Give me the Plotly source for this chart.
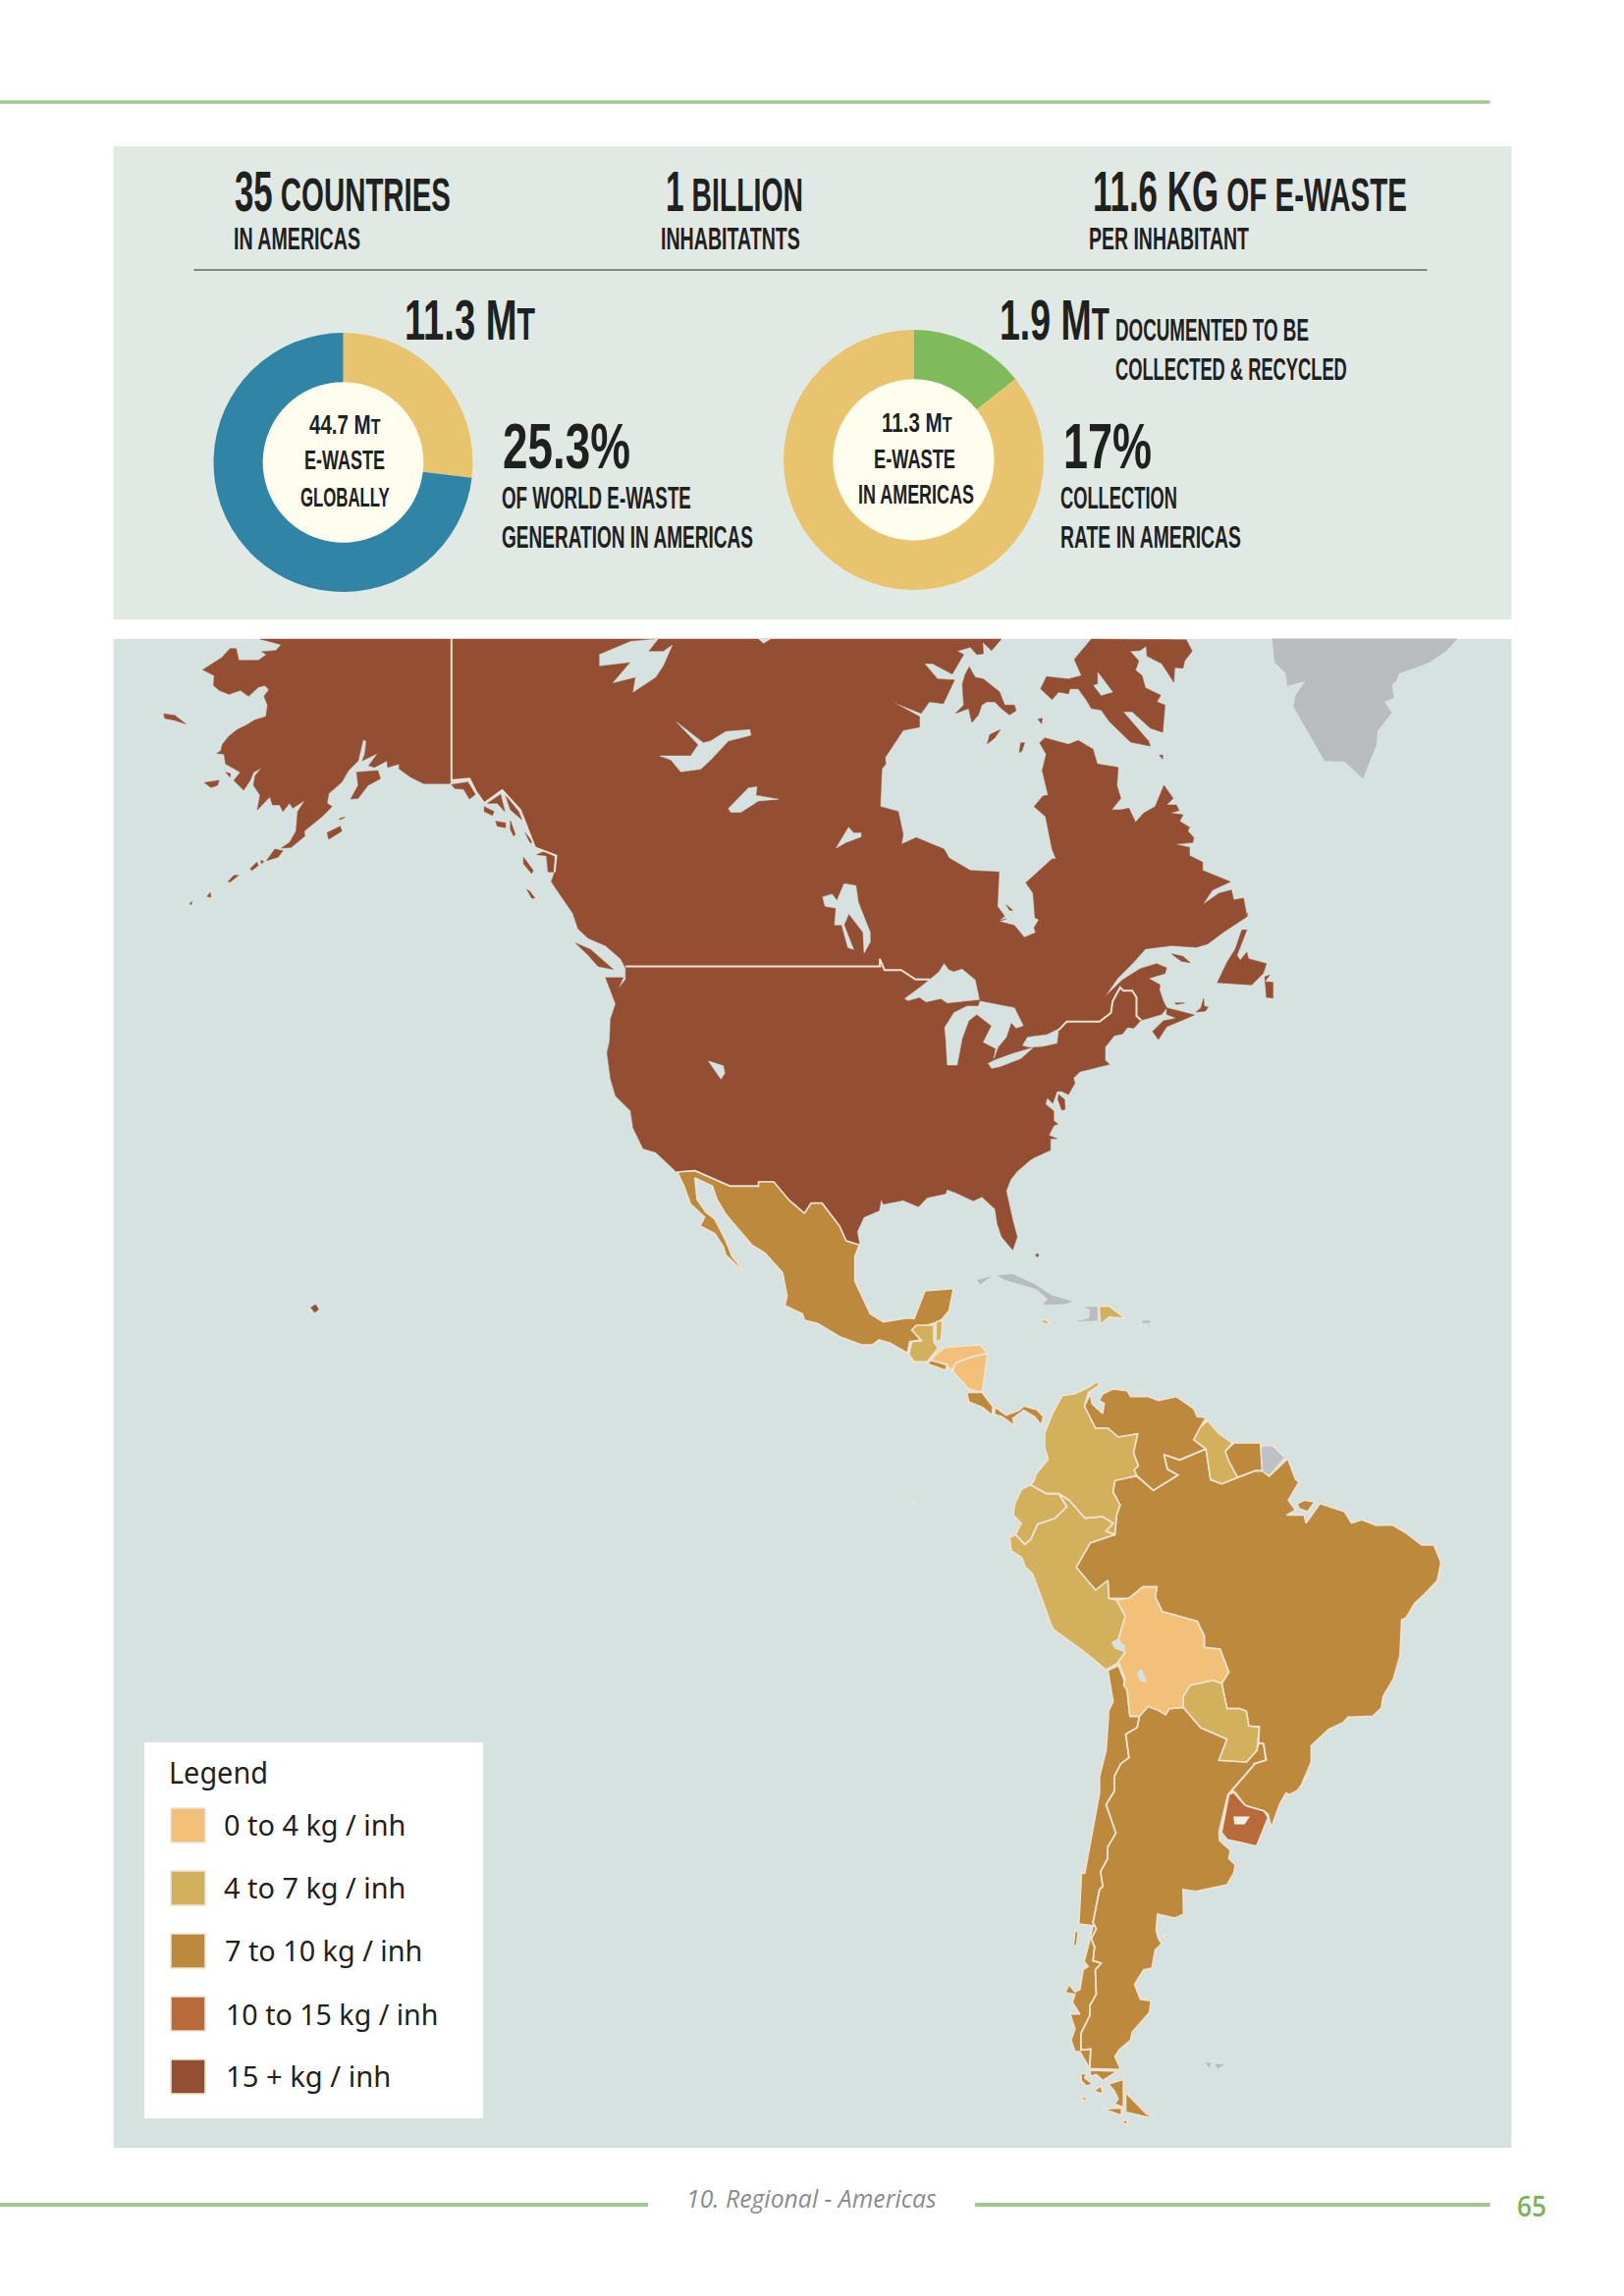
import json
import plotly.graph_objects as go

# ---------- page frame ----------
W, H = 1654, 2339
NUDGE = 1.5

def crop(x0, y0, sx, sy):
    return lambda pts: [(x0 + a / sx, y0 + b / sy) for a, b in pts]

z1 = crop(100, 640, 1.96, 2.613)
z2 = crop(800, 640, 2.063, 2.613)
z3 = crop(550, 1180, 2.24, 3)
z4 = crop(950, 1400, 2.8, 3)
z5 = crop(1050, 1750, 3, 3)
a1 = crop(190, 650, 3, 3)
a2 = crop(880, 650, 3, 3)
a3 = crop(920, 930, 3, 3)

# ---------- donut values ----------
GLOBAL_SHARE = [26.9, 73.1]
COLLECTED_SHARE = [14.3, 85.7]

# ---------- legend ----------
LEGEND_LABELS = ["0 to 4 kg / inh", "4 to 7 kg / inh", "7 to 10 kg / inh", "10 to 15 kg / inh", "15 + kg / inh"]
LEGEND_COLORS = ["#f2c078", "#d3b05c", "#bd893c", "#b96a3a", "#944f33"]
LEGEND_Y = [1842, 1906, 1970, 2034, 2098]
LEGEND_TEXT_X = [226.5, 226.5, 227.5, 228.5, 228.5]
LEGEND_TEXT_Y = [1858, 1922, 1986, 2051, 2114]
LEGEND_TEXT_W = [185.5, 185.5, 201.5, 216.5, 168.5]

# ---------- outlines ----------
NORTH_AMERICA = (
    a1([(220,3),(285,20),(268,38),(225,42),(240,50),(215,68),(155,68),(147,32),(128,32),(103,60),(45,97),(80,115),(78,145),(95,160),(125,172),(160,160),(185,178),(215,150),(235,145),(247,158),(232,178),(243,205),(238,240),(205,250),(175,268),(150,280),(125,300),(105,325),(100,345),(88,352),(110,355),(115,385),(160,410),(140,435),(170,465),(190,435),(200,410),(225,397),(205,420),(200,450),(220,480),(212,525),(250,485),(258,510),(280,510),(290,530),(310,505),(320,520),(358,495),(335,530),(330,590),(310,625),(285,642),(315,640),(357,605),(355,590),(410,545),(440,515),(425,505),(430,475),(470,440),(490,405),(520,375),(535,310),(545,315),(540,355),(532,375),(580,352),(552,390),(570,395),(608,375),(610,395),(645,385),(645,400),(680,425),(720,445),(800,445),(805,435),(860,430),(880,470),(905,505),(960,465),(1015,525),(1060,640),(1125,665),(1120,715),(1110,745)])
    + z1([(925,720),(945,760),(955,800),(975,825),(1010,845),(1040,880),(1050,905),(1050,935),(1035,960),(1045,930),(1010,930),(1025,980),(1030,1000),(1020,1040),(1018,1100),(1013,1130),(1020,1200),(1030,1245),(1060,1285),(1065,1330),(1085,1385),(1110,1395),(1150,1445)])
    + z3([(310,40),(350,35),(430,82),(495,82),(495,70),(530,70),(565,125),(600,165),(615,135),(640,135),(680,205),(695,250),(725,262),(720,225),(735,180),(770,160),(775,125),(780,140),(825,128),(860,148),(880,120),(922,108),(925,95),(945,105),(985,130),(1005,118),(1035,155),(1040,200),(1050,240),(1075,280),(1085,240),(1075,190),(1060,100),(1070,65),(1085,40),(1115,5)])
    + a3([(395,748),(445,725),(445,690),(465,690),(440,680),(455,650),(468,645),(455,635),(455,605),(430,585),(435,565),(452,582),(465,545),(480,545),(500,555),(520,520),(515,505),(535,485),(625,463),(612,450),(612,410),(640,375),(665,370),(680,350),(700,352),(722,328),(750,320),(785,310),(800,290),(885,312),(800,348),(775,387),(757,362),(790,330),(830,322),(800,310),(800,290),(790,270),(778,235),(780,220),(745,200),(795,185),(800,168),(770,155),(720,170),(665,205),(610,258),(650,200),(700,150),(735,110),(815,100),(890,105),(925,95),(975,58),(1045,12),(1048,0)])
    + a2([(1165,850),(1155,795),(1125,800),(1118,770),(1080,780),(1030,815),(1060,770),(1115,745),(1030,710),(1030,685),(990,665),(990,640),(945,630),(1000,625),(1003,610),(985,590),(990,578),(960,560),(970,540),(930,535),(958,527),(950,510),(920,510),(940,490),(912,450),(885,515),(850,535),(825,563),(805,520),(780,525),(752,525),(780,490),(768,450),(772,395),(708,385),(695,340),(650,313),(620,325),(548,305),(532,320),(552,355),(540,405),(558,480),(542,483),(515,515),(550,545),(570,645),(582,675),(570,675),(490,748),(512,780),(518,855)])
    + a3([(410,20),(395,45),(400,60),(365,75),(335,38),(283,25),(310,18)])
    + a2([(402,868),(425,850),(403,820),(408,715),(320,710),(255,672),(240,645),(155,610),(110,630),(115,600),(100,530),(45,515),(50,400),(62,385),(60,365),(115,282),(165,272),(165,240),(82,195),(170,230),(195,195),(238,200),(272,128),(220,125),(180,78),(205,78),(265,110),(300,50),(280,40),(320,28),(340,50),(360,48),(358,12),(385,38),(415,3)])
)
MELVILLE = a2([(317,88),(335,120),(360,125),(410,165),(425,205),(455,205),(460,222),(440,235),(415,215),(395,195),(370,195),(355,205),(345,235),(325,258),(315,215),(275,230),(300,205),(296,140),(305,110)])
BAFFIN = a2([(690,3),(638,65),(660,115),(620,125),(553,118),(535,155),(570,188),(590,165),(620,170),(625,155),(650,155),(675,190),(690,215),(720,220),(745,255),(770,280),(810,318),(870,330),(865,315),(787,225),(815,225),(870,275),(908,288),(915,205),(890,195),(902,175),(855,152),(845,115),(825,98),(835,70),(808,40),(838,38),(858,25),(860,55),(905,78),(942,135),(945,90),(970,92),(975,70),(998,40),(980,5)])
SOUTHAMPTON = a2([(372,323),(380,295),(412,280),(395,305)])
COATS = a2([(470,350),(474,320),(486,320),(478,345)])
MANSEL = a2([(527,248),(540,245),(538,262)])
AKPATOK = a2([(898,358),(908,358),(908,370)])
BAY_ISLE = a2([(430,815),(450,832),(440,832)])
NEWFOUNDLAND = a3([(1030,52),(1045,52),(1015,130),(1025,145),(1045,120),(1050,140),(1105,155),(1095,185),(1060,220),(955,213),(985,150),(1010,110)])
AVALON = a3([(1100,195),(1115,190),(1100,210),(1125,212),(1125,260),(1105,258)])
ANTICOSTI = a3([(815,125),(850,133),(872,152),(845,148)])
CAPE_BRETON = a3([(890,303),(905,290),(913,262),(915,285),(927,288),(918,300)])
SABLE = a3([(825,275),(855,275),(830,280)])
DELMARVA = a3([(470,555),(488,570),(490,600),(480,603),(468,570)])
NUNIVAK = z1([(128,228),(150,232),(172,255),(150,245),(130,240)])
ST_MATTHEW = a1([(50,442),(95,435),(90,450),(70,457)])
SMALL_AK = a1([(115,410),(130,415),(128,425)])
KODIAK = a1([(425,595),(465,575),(470,590),(440,610),(430,615)])
AFOGNAK = a1([(462,552),(480,547),(465,555)])
KENAI = a1([(515,410),(580,405),(588,430),(550,450),(520,490),(497,492),(520,450)])
ALEUT = [
    a1([(240,680),(265,645),(290,650),(275,670)]),
    a1([(190,705),(210,685),(215,695),(195,710)]),
    a1([(222,680),(232,682),(225,690)]),
    a1([(122,745),(140,725),(155,725),(130,745)]),
    a1([(58,790),(68,778),(70,792)]),
    a1([(5,812),(12,805),(10,815)]),
]
PANHANDLE = [
    a1([(805,448),(855,440),(878,478),(860,492),(842,462),(815,460)]),
    a1([(905,515),(935,530),(930,542),(905,530)]),
    a1([(915,505),(955,478),(968,530),(945,505)]),
    a1([(970,480),(1010,530),(1020,555),(985,525)]),
    a1([(940,560),(970,565),(970,580),(945,575)]),
    a1([(985,558),(1000,600),(995,605),(985,585)]),
    a1([(1030,595),(1055,625),(1045,625)]),
    a1([(1065,662),(1090,652),(1120,668),(1118,715),(1100,715),(1095,665)]),
    a1([(1025,670),(1055,710),(1050,720),(1025,690)]),
    a1([(1035,768),(1045,775),(1060,795),(1050,795)]),
]
VANCOUVER = z1([(950,838),(980,855),(1025,908),(995,900),(975,870)])
HAWAII = [(315,1332),(320,1329),(323,1334),(319,1337)]
BAHAMAS = z3([(1127,296),(1131,291),(1135,296),(1131,302)])

LAKES = [
    z1([(998,70),(1060,35),(1115,28),(1095,62),(1125,62),(1143,45),(1125,100),(1110,130),(1065,170),(1070,130),(1025,145),(1060,90),(998,100)]),
    z1([(1152,250),(1185,285),(1205,305),(1220,300),(1250,275),(1298,270),(1300,285),(1255,300),(1220,350),(1200,375),(1160,382),(1140,350),(1118,340),(1180,340),(1195,310)]),
    z1([(1255,480),(1295,425),(1312,422),(1310,445),(1355,455),(1315,460),(1280,490),(1260,490)]),
    z1([(1470,585),(1495,530),(1505,545),(1520,545),(1520,555),(1490,570)]),
    z1([(1215,1152),(1245,1165),(1248,1185),(1240,1200)]),
    z1([(1315,28),(1340,28),(1325,40)]),
    z2([(75,715),(95,708),(105,725),(120,680),(145,685),(150,730),(175,810),(175,835),(162,865),(160,810),(130,760),(120,790),(140,855),(128,850),(115,790),(100,790),(103,745),(80,740)]),
    a3([(0,262),(50,225),(105,180),(120,155),(135,175),(150,180),(175,172),(215,205),(228,265),(130,275),(110,262),(65,272),(45,258),(10,268)]),
    a3([(230,270),(335,290),(362,345),(340,352),(325,335),(310,380),(285,410),(272,445),(278,415),(240,395),(265,345),(220,310),(195,330),(175,385),(160,465),(130,465),(125,380),(122,350),(150,305),(190,285),(225,285)]),
    a3([(255,460),(275,450),(330,430),(392,412),(355,445),(290,470),(265,475)]),
    a3([(360,405),(375,380),(435,372),(470,355),(465,398),(420,408),(380,410)]),
    a2([(710,105),(755,165),(720,175),(697,145),(710,140)]),
]
ANDEAN_LAKES = [
    z4([(505,820),(520,810),(545,830),(540,848),(515,838)]),
    z4([(578,915),(590,900),(607,940),(590,938)]),
]

ALASKA_BORDER = a1([(805,3),(805,435),(860,430),(880,470),(905,505),(960,465),(1015,525),(1060,640),(1125,665),(1120,715)])
USA_BORDER_WEST = z1([(1050,900),(1560,900)]) + z2([(195,900),(195,880),(205,910),(240,910),(270,935),(300,935)])
USA_BORDER_EAST = a3([(470,358),(495,332),(595,332),(630,305),(635,270),(658,228),(668,238),(695,238),(708,258),(708,315),(722,328)])

GREENLAND = z2([(1020,28),(1408,28),(1385,60),(1350,90),(1320,105),(1285,120),(1280,140),(1270,150),(1275,185),(1255,195),(1270,225),(1240,275),(1238,310),(1210,400),(1172,355),(1130,353),(1065,210),(1068,180),(1090,140),(1052,153),(1048,120),(1025,90)])
CUBA = z3([(1040,358),(1075,355),(1125,385),(1165,420),(1210,437),(1195,445),(1145,447),(1155,430),(1130,400),(1090,385),(1055,370)])
CUBA_WEST = z3([(995,372),(1025,362),(1000,385)])
HAITI = z3([(1240,455),(1268,455),(1268,495),(1222,498),(1250,490),(1252,462)])
PUERTO_RICO = z3([(1370,497),(1388,497),(1388,503),(1372,503)])
FALKLAND_1 = z5([(560,1058),(585,1060),(565,1072)])
FALKLAND_2 = z5([(530,1055),(545,1055),(540,1068)])
FRENCH_GUIANA = z4([(935,218),(965,218),(1000,255),(955,312),(935,300),(932,260),(925,240)])

MEXICO = z3([(310,42),(350,38),(430,85),(495,85),(495,72),(530,72),(565,128),(600,168),(615,137),(640,137),(680,207),(695,252),(725,265),(715,300),(715,375),(750,475),(780,500),(835,488),(850,490),(875,405),(940,398),(930,465),(915,490),(905,500),(855,520),(845,525),(865,555),(840,560),(835,595),(795,565),(770,555),(755,570),(730,570),(680,545),(630,505),(600,495),(595,475),(555,450),(560,420),(550,350),(510,290),(480,265),(445,210),(420,170),(400,125),(390,85),(350,60),(355,125),(375,165),(395,185),(420,250),(435,300),(462,345),(455,340),(420,295),(415,270),(395,230),(362,207),(372,180),(340,140),(325,85)])
GUATEMALA = z3([(855,510),(895,510),(895,560),(905,580),(880,622),(850,622),(838,600),(845,560),(868,558),(845,525)])
BELIZE = z3([(900,500),(915,495),(912,555),(900,560)])
HONDURAS = z3([(895,605),(920,578),(1000,570),(1018,595),(985,605),(945,625),(935,650),(925,630),(890,618)])
NICARAGUA = z3([(985,605),(1018,598),(1005,715),(975,705),(938,650),(945,625)])
EL_SALVADOR = z3([(880,628),(890,615),(925,632),(922,648),(905,640)])
COSTA_RICA = z3([(970,715),(1005,715),(1030,760),(1028,785),(1005,760),(975,745)])
PANAMA = z3([(1035,760),(1060,785),(1090,770),(1100,757),(1130,768),(1145,790),(1140,815),(1125,790),(1100,770),(1075,795),(1080,818),(1050,790),(1033,782)])
DOMINICAN_REP = z3([(1272,452),(1295,452),(1332,490),(1295,485),(1275,508)])
JAMAICA = z3([(1138,495),(1150,493),(1160,505),(1150,508)])
GALAPAGOS = z3([(849,1045),(853,1055),(850,1058)])

COLOMBIA = z4([(465,22),(470,35),(440,55),(428,98),(460,165),(495,165),(525,192),(580,182),(568,240),(582,280),(570,292),(578,310),(515,325),(510,360),(530,400),(520,430),(515,490),(490,480),(510,455),(480,435),(430,440),(385,385),(355,365),(320,365),(275,338),(285,325),(290,305),(325,260),(315,225),(315,180),(335,125),(365,65),(400,60),(440,40)])
VENEZUELA = z4([(480,60),(510,45),(550,50),(560,68),(610,68),(640,80),(690,68),(740,105),(750,130),(775,132),(760,160),(740,200),(775,228),(700,262),(655,245),(665,290),(695,308),(625,355),(575,310),(570,292),(582,280),(568,240),(580,182),(525,192),(495,165),(460,165),(428,98),(445,60),(450,90),(480,120),(485,90),(470,80)])
GUYANA = z4([(780,142),(810,180),(850,210),(830,235),(840,265),(865,315),(820,335),(788,322),(775,228),(740,200),(760,160)])
SURINAME = z4([(855,210),(930,210),(935,295),(915,295),(865,315),(835,265),(830,235)])
BRAZIL = (
    z4([(1008,258),(1030,320),(1040,330),(1010,385),(1030,415),(1005,430),(1055,430),(1060,455),(1100,395),(1170,420),(1190,455),(1220,445),(1260,462),(1305,460),(1345,485),(1390,522),(1425,522),(1445,575),(1435,630),(1400,670),(1370,700),(1345,745),(1333,750),(1328,860),(1310,930),(1280,985),(1275,1020),(1250,1045),(1180,1048),(1165,1065),(1125,1085),(1075,1135),(1075,1185),(1045,1260)])
    + z5([(850,165),(810,222),(785,235),(775,230),(755,265),(730,335),(720,295),(708,285),(650,268),(620,228),(610,222),(680,140),(715,128),(705,78),(688,76)])
    + z4([(925,1128),(927,1078),(897,1075),(890,1030),(870,1022),(835,1022),(820,945),(840,910),(815,840),(770,835),(770,800),(750,755),(650,725),(630,680),(635,650),(595,650),(555,685),(498,685),(495,630),(460,660),(405,590),(445,515),(515,490),(520,430),(530,400),(510,360),(515,325),(578,310),(625,355),(695,308),(665,290),(655,245),(700,262),(775,228),(788,322),(820,335),(865,315),(915,295),(935,295),(955,312)])
)
MARAJO = z4([(1035,395),(1055,385),(1085,390),(1065,420),(1040,410)])
ECUADOR = z4([(275,338),(320,365),(355,365),(378,405),(345,440),(295,458),(275,505),(258,520),(232,490),(248,455),(225,430),(230,395),(250,350)])
PERU = z4([(215,500),(232,490),(258,520),(275,505),(295,458),(345,440),(378,405),(355,365),(385,385),(430,440),(480,435),(510,455),(490,480),(515,490),(445,515),(405,590),(460,660),(495,630),(498,685),(520,690),(545,740),(525,810),(545,850),(520,885),(490,903),(430,850),(340,780),(335,770),(305,680),(280,610),(260,590),(250,560),(220,540)])
BOLIVIA = z4([(520,690),(555,685),(595,650),(635,650),(630,680),(650,725),(750,755),(770,800),(770,835),(815,840),(840,910),(820,945),(795,935),(730,950),(710,985),(710,1018),(670,1022),(660,1040),(635,1025),(610,1015),(585,1045),(558,1045),(550,965),(540,950),(545,930),(525,880),(545,850),(525,810),(545,740)])
PARAGUAY = z4([(710,1018),(710,985),(730,950),(795,935),(820,945),(835,1022),(870,1022),(890,1030),(897,1075),(927,1078),(920,1150),(890,1185),(812,1180),(835,1115),(760,1080)])
ARGENTINA = (
    z4([(585,1045),(610,1015),(635,1025),(660,1040),(670,1022),(710,1018),(760,1080),(835,1115),(812,1180),(890,1185),(920,1150),(925,1128),(940,1130),(945,1180),(910,1190)])
    + z5([(680,140),(610,220),(597,235),(570,350),(572,375),(605,405),(600,430),(620,450),(615,475),(595,510),(500,530),(460,525),(462,600),(435,612),(382,600),(378,650),(385,675),(395,690),(375,710),(365,765),(340,770),(312,815),(330,860),(362,865),(358,900),(305,960),(300,985),(265,1015),(252,1035),(270,1075),(175,1072),(178,1012),(148,1015),(148,965),(175,910),(175,880),(195,845),(192,770),(210,750),(185,742),(190,700),(180,675),(195,645),(185,625),(205,525),(215,515),(208,470),(230,430),(230,395),(255,352),(225,265),(250,225),(250,180),(270,140),(295,122),(285,50),(320,30)])
)
CHILE = (
    z4([(495,905),(525,890),(540,930),(550,965),(558,1045),(585,1045)])
    + z5([(320,30),(285,50),(295,122),(270,140),(250,180),(250,225),(225,265),(255,352),(230,395),(230,430),(208,470),(215,515),(205,525),(185,625),(195,645),(180,675),(190,700),(185,742),(210,750),(192,770),(195,845),(175,880),(175,910),(148,965),(148,1015),(178,1012),(175,1072),(145,1020),(130,1020),(118,985),(130,950),(115,905),(145,905),(122,870),(130,845),(100,840),(112,815),(130,838),(145,830),(155,770),(170,760),(158,745),(175,680),(185,635),(142,630),(145,570),(150,475),(160,475),(205,230),(205,180),(225,100),(232,0)])
    + z4([(497,1030),(510,1000)])
)
FUEGO = [
    z5([(175,1077),(260,1080),(215,1108),(195,1090),(178,1095)]),
    z5([(148,1090),(165,1085),(160,1100),(185,1120),(165,1125),(150,1110)]),
    z5([(232,1120),(278,1105),(278,1190),(250,1180),(262,1165),(250,1140)]),
    z5([(285,1145),(350,1212),(378,1212),(350,1220),(285,1205)]),
    z5([(215,1195),(272,1192),(272,1215)]),
    z5([(187,1140),(210,1125),(215,1150)]),
    z5([(152,1155),(170,1165),(155,1170)]),
    z5([(272,1232),(290,1230),(288,1245)]),
    z5([(130,650),(140,655),(135,695),(125,700)]),
    z5([(400,662),(415,668),(412,678)]),
]
URUGUAY = z5([(600,235),(615,228),(650,268),(708,285),(720,305),(685,392),(595,372),(578,350)])
URUGUAY_GAP = z5([(615,302),(663,302),(648,325),(618,325)])

# ---------- page texts: text, left x, centre y, size, target width ----------
HEAD = [
    ('35<span style="font-size:49px"> COUNTRIES</span>', 237.5, 194.5, 58, 220),
    ("IN AMERICAS", 236.5, 243.5, 31, 129),
    ('1<span style="font-size:49px"> BILLION</span>', 676.5, 194.5, 58, 140),
    ("INHABITATNTS", 671.5, 243.5, 31, 142),
    ('11.6 KG<span style="font-size:49px"> OF E-WASTE</span>', 1111.5, 194.5, 58, 320),
    ("PER INHABITANT", 1107.5, 243.5, 31, 163),
    ('11.3 M<span style="font-size:46px">T</span>', 410.5, 325.5, 58, 133),
    ('1.9 M<span style="font-size:46px">T</span>', 1016.5, 325.5, 58, 112),
    ("DOCUMENTED TO BE", 1134.5, 335.5, 32, 197),
    ("COLLECTED &amp; RECYCLED", 1134.5, 375.5, 32, 236),
    ("25.3%", 510.5, 455, 64, 130),
    ("OF WORLD E-WASTE", 509.5, 506.5, 32, 193),
    ("GENERATION IN AMERICAS", 509.5, 546.5, 32, 256),
    ("17%", 1081.5, 455, 64, 90),
    ("COLLECTION", 1078, 506.5, 32, 119),
    ("RATE IN AMERICAS", 1078, 546.5, 32, 184),
    ('44.7 M<span style="font-size:22px">T</span>', 313, 432, 28, 73),
    ("E-WASTE", 308, 468, 28, 82),
    ("GLOBALLY", 304, 506, 28, 91),
    ('11.3 M<span style="font-size:22px">T</span>', 896, 430, 28, 72),
    ("E-WASTE", 888, 467, 28, 83),
    ("IN AMERICAS", 872, 503, 28, 118),
]

def ring(*polys):
    xs, ys = [], []
    for p in polys:
        xs += [a for a, _ in p] + [p[0][0], None]
        ys += [b for _, b in p] + [p[0][1], None]
    return xs, ys

def line(*polys):
    xs, ys = [], []
    for p in polys:
        xs += [a for a, _ in p] + [None]
        ys += [b for _, b in p] + [None]
    return xs, ys

fig = go.Figure()
SEA = "#d6e2e0"
EDGE = "#efe3d3"

def land(polys, color, edge=True, name=None):
    x, y = ring(*polys)
    fig.add_trace(go.Scatter(x=x, y=y, mode="lines", fill="toself", fillcolor=color, name=name,
                             line=dict(color=EDGE if edge else color, width=1.6 if edge else 0.5),
                             hoverinfo="skip", showlegend=False))

land([NORTH_AMERICA, MELVILLE, BAFFIN, SOUTHAMPTON, COATS, MANSEL, AKPATOK, BAY_ISLE, NEWFOUNDLAND, AVALON,
      ANTICOSTI, CAPE_BRETON, SABLE, DELMARVA, NUNIVAK, ST_MATTHEW, SMALL_AK, KODIAK, AFOGNAK, KENAI, VANCOUVER,
      HAWAII, BAHAMAS] + ALEUT + PANHANDLE, LEGEND_COLORS[4], edge=False, name="15 +")
land(LAKES, SEA, edge=False, name="lakes")
land([GREENLAND, CUBA, CUBA_WEST, HAITI, PUERTO_RICO, FALKLAND_1, FALKLAND_2], "#b9bcbe", edge=False, name="no data")
land([FRENCH_GUIANA], "#bcc1c4", name="no data")
land([MEXICO, EL_SALVADOR, COSTA_RICA, PANAMA, VENEZUELA, SURINAME, BRAZIL, MARAJO, ARGENTINA, CHILE] + FUEGO,
     LEGEND_COLORS[2], name="7 to 10")
land([GUATEMALA, BELIZE, DOMINICAN_REP, JAMAICA, GALAPAGOS, COLOMBIA, GUYANA, ECUADOR, PERU, PARAGUAY],
     LEGEND_COLORS[1], name="4 to 7")
land([HONDURAS, NICARAGUA, BOLIVIA], LEGEND_COLORS[0], name="0 to 4")
land([URUGUAY], LEGEND_COLORS[3], name="10 to 15")
land([URUGUAY_GAP], "#eef0ea", edge=False, name="gap")
land(ANDEAN_LAKES, SEA, edge=False, name="lakes south")
bx, by = line(ALASKA_BORDER, USA_BORDER_WEST, USA_BORDER_EAST)
fig.add_trace(go.Scatter(x=bx, y=by, mode="lines", line=dict(color=EDGE, width=2), hoverinfo="skip", showlegend=False))

# ---------- donuts ----------
def donut(vals, colors, cx, cy, r):
    cx = cx + NUDGE
    fig.add_trace(go.Pie(values=vals, marker=dict(colors=colors, line=dict(width=0)), hole=0.62, sort=False,
                         direction="clockwise", rotation=0, textinfo="none", hoverinfo="skip", showlegend=False,
                         domain=dict(x=[(cx - r) / W, (cx + r) / W], y=[1 - (cy + r) / H, 1 - (cy - r) / H])))

donut(GLOBAL_SHARE, ["#e8c46e", "#3084a5"], 348, 471, 132)
donut(COLLECTED_SHARE, ["#7fba5b", "#e8c46e"], 929, 468.5, 132.5)

# ---------- page furniture ----------
def rect(x0, y0, x1, y1, fill, **kw):
    return dict(type="rect", xref="x", yref="y", x0=x0, y0=y0, x1=x1, y1=y1, fillcolor=fill,
                line=kw.get("line", dict(width=0)), layer="below")

def hline(x0, x1, y, color, width):
    return dict(type="line", xref="x", yref="y", x0=x0, x1=x1, y0=y, y1=y, line=dict(color=color, width=width), layer="below")

def disc(cx, cy, r):
    return dict(type="circle", xref="x", yref="y", x0=cx - r, x1=cx + r, y0=cy - r, y1=cy + r,
                fillcolor="#fffdee", line=dict(width=0), layer="below")

shapes = [
    hline(-5, 1516, 104, "#a3c68f", 3.5),
    rect(114, 149, 1538, 631, "#e1e9e5"),
    hline(196, 1452, 275, "#5f6763", 1.5),
    disc(348, 471, 83),
    disc(929, 468.5, 83),
    rect(114, 651, 1538, 2188, SEA),
    rect(145.5, 1775, 490.5, 2158, "#ffffff"),
    hline(-5, 658.5, 2246, "#a3c68f", 4),
    hline(991.5, 1516, 2246, "#a3c68f", 4),
]
for c, y in zip(LEGEND_COLORS, LEGEND_Y):
    shapes.append(rect(172.5, y, 207.5, y + 35, c, line=dict(color="#efe3d3", width=1.5)))

anns, widths = [], []
def note(text, x, y, size, w, family, color, **font):
    anns.append(dict(text=text, x=x, y=y, xref="x", yref="y", xanchor="left", yanchor="middle", showarrow=False,
                     borderpad=0, borderwidth=0, align="left",
                     font=dict(family=family, size=size, color=color, **font)))
    widths.append(w)

NARROW = "Liberation Sans Narrow, Liberation Sans, sans-serif"
for t, x, y, s, w in HEAD:
    note(t, x, y, s, w, NARROW, "#1f2120", weight=700)
note("Legend", 170.5, 1805.5, 30, 101, "Noto Sans", "#231f20")
for t, x, y, w in zip(LEGEND_LABELS, LEGEND_TEXT_X, LEGEND_TEXT_Y, LEGEND_TEXT_W):
    note(t, x, y, 29, w, "Noto Sans", "#231f20")
note("10. Regional - Americas", 697.5, 2239, 25, 255, "Open Sans", "#8a8d8e", style="italic")
note("65", 1543, 2247, 28, 30, "Open Sans", "#7ab55c", weight=600)

fig.update_layout(
    width=W, height=H, margin=dict(l=0, r=0, t=0, b=0), paper_bgcolor="#ffffff", plot_bgcolor="rgba(0,0,0,0)",
    xaxis=dict(range=[-NUDGE, W - NUDGE], visible=False, fixedrange=True),
    yaxis=dict(range=[H, 0], visible=False, fixedrange=True),
    shapes=shapes, annotations=anns, showlegend=False,
)

POST = """
document.body.style.margin = '0';
var W_ = %s;
function fit_() {
  var t = document.querySelectorAll('.annotation-text');
  t.forEach(function (n, i) {
    n.removeAttribute('transform');
    var b = n.getBBox(), k = W_[i] / b.width;
    n.setAttribute('transform', 'translate(' + (b.x * (1 - k)) + ',0) scale(' + k + ',1)');
  });
}
fit_();
if (document.fonts && document.fonts.ready) document.fonts.ready.then(fit_);
""" % json.dumps(widths)

fig.write_html("out.html", post_script=POST, config=dict(displayModeBar=False))
